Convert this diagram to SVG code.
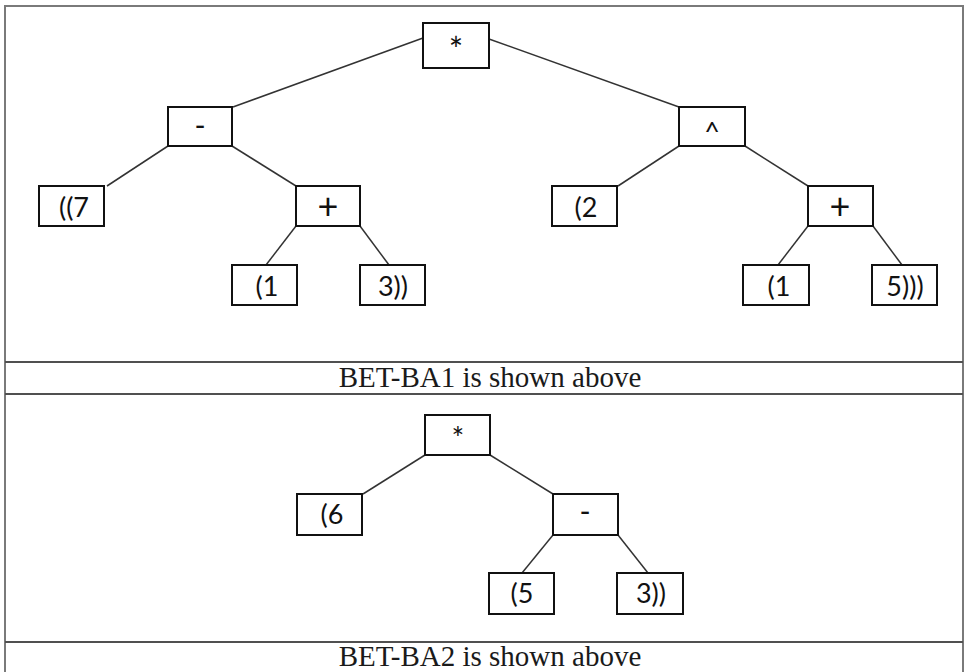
<svg xmlns="http://www.w3.org/2000/svg" width="967" height="672" viewBox="0 0 967 672">
  <style>
    .frame { fill: none; stroke: #7a7a7a; stroke-width: 2; }
    .rule { stroke: #505050; stroke-width: 2; }
    .box { fill: #ffffff; stroke: #111111; stroke-width: 2; }
    .edge { stroke: #333333; stroke-width: 1.5; fill: none; }
    .lbl { font-family: Lato, "Open Sans", "Liberation Sans", sans-serif; font-size: 27px; fill: #111111; text-anchor: middle; }
    .op { font-size: 30px; }
    .plus { font-size: 36px; }
    .star { font-size: 34px; }
    .cap { font-family: "Liberation Serif", "Times New Roman", serif; font-size: 29px; fill: #1a1a1a; text-anchor: middle; }
  </style>

  <rect width="967" height="672" fill="#ffffff"/>

  <!-- table frame and row dividers -->
  <g id="frame">
    <path class="frame" d="M5,672 V6 H963 V672"/>
    <line class="rule" x1="5" y1="362" x2="963" y2="362"/>
    <line class="rule" x1="5" y1="394" x2="963" y2="394"/>
    <line class="rule" x1="5" y1="642" x2="963" y2="642"/>
    <text class="cap" x="490" y="387">BET-BA1 is shown above</text>
    <text class="cap" x="490" y="666">BET-BA2 is shown above</text>
  </g>

  <!-- connectors -->
  <g id="connectors">
    <!-- tree 1 -->
    <line class="edge" x1="423" y1="38" x2="233" y2="107"/>
    <line class="edge" x1="489" y1="39" x2="679" y2="107"/>
    <line class="edge" x1="168" y1="146" x2="107" y2="186"/>
    <line class="edge" x1="232" y1="146" x2="296" y2="186"/>
    <line class="edge" x1="296" y1="226" x2="266" y2="265"/>
    <line class="edge" x1="360" y1="226" x2="389" y2="265"/>
    <line class="edge" x1="679" y1="146" x2="618" y2="186"/>
    <line class="edge" x1="745" y1="146" x2="808" y2="186"/>
    <line class="edge" x1="808" y1="226" x2="778" y2="265"/>
    <line class="edge" x1="873" y1="226" x2="902" y2="265"/>
    <!-- tree 2 -->
    <line class="edge" x1="425" y1="455" x2="363" y2="494"/>
    <line class="edge" x1="490" y1="455" x2="553" y2="494"/>
    <line class="edge" x1="553" y1="535" x2="522" y2="573"/>
    <line class="edge" x1="618" y1="535" x2="648" y2="573"/>
  </g>

  <!-- tree 1 nodes -->
  <g id="t1-mul"><rect class="box" x="423" y="23" width="66" height="45"/><text class="lbl star" x="456" y="62">*</text></g>
  <g id="t1-sub"><rect class="box" x="168" y="107" width="64" height="39"/><text class="lbl op" x="200" y="136">-</text></g>
  <g id="t1-pow"><rect class="box" x="679" y="107" width="66" height="39"/><text class="lbl" x="712" y="141">^</text></g>
  <g id="t1-n7"><rect class="box" x="39" y="186" width="65" height="40"/><text class="lbl" x="74" y="217">((7</text></g>
  <g id="t1-add1"><rect class="box" x="296" y="186" width="64" height="40"/><text class="lbl plus" x="328" y="219">+</text></g>
  <g id="t1-n2"><rect class="box" x="552" y="186" width="65" height="40"/><text class="lbl" x="586" y="217">(2</text></g>
  <g id="t1-add2"><rect class="box" x="808" y="186" width="65" height="40"/><text class="lbl plus" x="840" y="219">+</text></g>
  <g id="t1-n1a"><rect class="box" x="232" y="265" width="65" height="40"/><text class="lbl" x="267" y="296">(1</text></g>
  <g id="t1-n3"><rect class="box" x="360" y="265" width="65" height="40"/><text class="lbl" x="393" y="296">3))</text></g>
  <g id="t1-n1b"><rect class="box" x="743" y="265" width="66" height="40"/><text class="lbl" x="779" y="296">(1</text></g>
  <g id="t1-n5"><rect class="box" x="872" y="265" width="65" height="40"/><text class="lbl" x="905" y="296">5)))</text></g>

  <!-- tree 2 nodes -->
  <g id="t2-mul"><rect class="box" x="425" y="415" width="65" height="40"/><text class="lbl op" x="458" y="449">*</text></g>
  <g id="t2-n6"><rect class="box" x="297" y="494" width="65" height="41"/><text class="lbl" x="332" y="524">(6</text></g>
  <g id="t2-sub"><rect class="box" x="553" y="494" width="65" height="41"/><text class="lbl op" x="585" y="522">-</text></g>
  <g id="t2-n5"><rect class="box" x="489" y="573" width="65" height="41"/><text class="lbl" x="522" y="603">(5</text></g>
  <g id="t2-n3"><rect class="box" x="617" y="573" width="66" height="41"/><text class="lbl" x="651" y="603">3))</text></g>
</svg>
